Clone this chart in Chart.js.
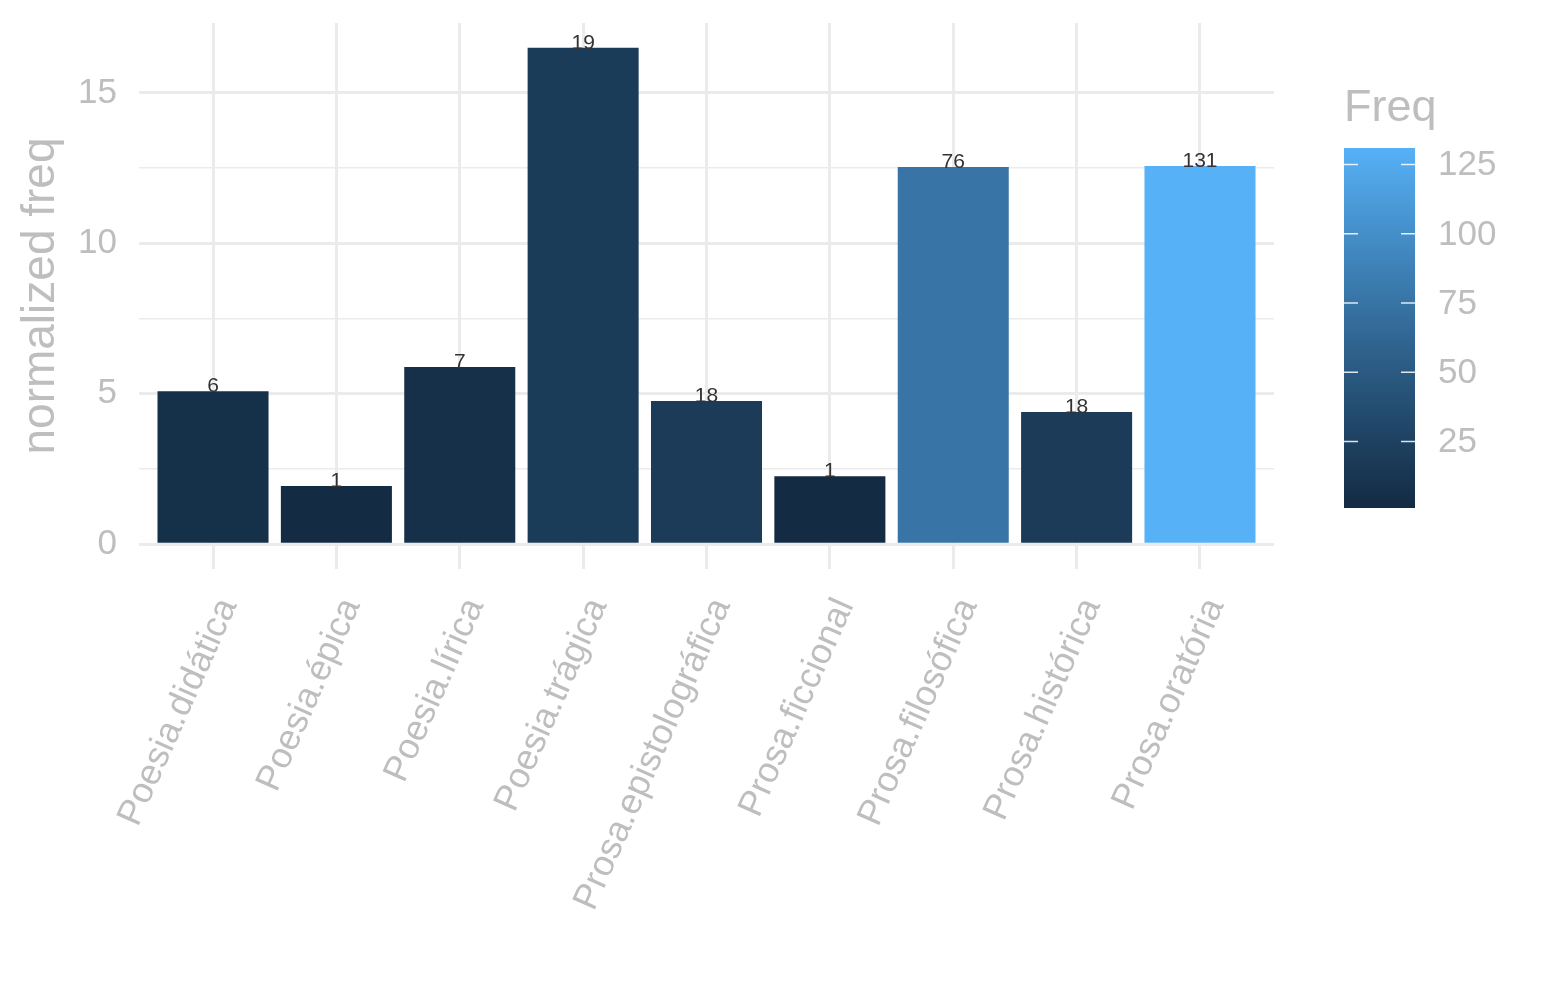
<!DOCTYPE html>
<html>
<head>
<meta charset="utf-8">
<script src="https://cdn.jsdelivr.net/npm/chart.js@4.4.1/dist/chart.umd.min.js"></script>
<style>
  html, body { margin: 0; padding: 0; background: #ffffff; }
  #chart { display: block; }
</style>
</head>
<body>
<canvas id="chart" width="1545" height="1000"></canvas>
<script>
const genres = ["Poesia.didática", "Poesia.épica", "Poesia.lírica", "Poesia.trágica", "Prosa.epistolográfica",
  "Prosa.ficcional", "Prosa.filosófica", "Prosa.histórica", "Prosa.oratória"];
const normFreq = [5.08, 1.93, 5.89, 16.5, 4.76, 2.26, 12.54, 4.39, 12.57];
const freqCounts = [6, 1, 7, 19, 18, 1, 76, 18, 131];
const yTicks = [0, 2.5, 5, 7.5, 10, 12.5, 15];
const legendTicks = [25, 50, 75, 100, 125];

const lowColor = "#132B43";
const highColor = "#56B1F7";
const gridColor = "#EBEBEB";
const textGrey = "#BEBEBE";
const font = "'Liberation Sans', Arial, Helvetica, sans-serif";

// lab interpolation like ggplot's gradient
function hexToRgb(hex) {
  return [1, 3, 5].map((i) => parseInt(hex.slice(i, i + 2), 16) / 255);
}

function rgbToLab(rgb) {
  const lin = rgb.map((c) => (c <= 0.04045 ? c / 12.92 : Math.pow((c + 0.055) / 1.055, 2.4)));
  const x = (0.4124 * lin[0] + 0.3576 * lin[1] + 0.1805 * lin[2]) / 0.95047;
  const y = 0.2126 * lin[0] + 0.7152 * lin[1] + 0.0722 * lin[2];
  const z = (0.0193 * lin[0] + 0.1192 * lin[1] + 0.9505 * lin[2]) / 1.08883;
  const f = (t) => (t > 0.008856 ? Math.cbrt(t) : 7.787 * t + 16 / 116);
  return [116 * f(y) - 16, 500 * (f(x) - f(y)), 200 * (f(y) - f(z))];
}

function labToHex(lab) {
  const fy = (lab[0] + 16) / 116;
  const fx = fy + lab[1] / 500;
  const fz = fy - lab[2] / 200;
  const finv = (t) => (t * t * t > 0.008856 ? t * t * t : (t - 16 / 116) / 7.787);
  const x = finv(fx) * 0.95047;
  const y = finv(fy);
  const z = finv(fz) * 1.08883;
  const lin = [
    3.2406 * x - 1.5372 * y - 0.4986 * z,
    -0.9689 * x + 1.8758 * y + 0.0415 * z,
    0.0557 * x - 0.2040 * y + 1.0570 * z
  ];
  return "#" + lin.map((c) => {
    const v = c <= 0.0031308 ? 12.92 * c : 1.055 * Math.pow(c, 1 / 2.4) - 0.055;
    const n = Math.round(Math.min(1, Math.max(0, v)) * 255);
    return n.toString(16).padStart(2, "0");
  }).join("");
}

const lowLab = rgbToLab(hexToRgb(lowColor));
const highLab = rgbToLab(hexToRgb(highColor));
const freqMin = Math.min(...freqCounts);
const freqMax = Math.max(...freqCounts);

function fillFor(value) {
  const t = (value - freqMin) / (freqMax - freqMin);
  return labToHex(lowLab.map((l, i) => l + (highLab[i] - l) * t));
}

const barLabels = {
  id: "barLabels",
  afterDatasetsDraw(chart) {
    const ctx = chart.ctx;
    const meta = chart.getDatasetMeta(0);
    ctx.save();
    ctx.fillStyle = "#333333";
    ctx.font = "21px " + font;
    ctx.textAlign = "center";
    ctx.textBaseline = "alphabetic";
    meta.data.forEach((bar, i) => {
      ctx.fillText(String(freqCounts[i]), bar.x, bar.y + 1);
    });
    ctx.restore();
  }
};

const colorBar = {
  id: "colorBar",
  afterDraw(chart) {
    const ctx = chart.ctx;
    const left = 1344;
    const width = 71;
    const top = 148;
    const bottom = 508;
    const yFor = (v) => bottom - (v - freqMin) / (freqMax - freqMin) * (bottom - top);
    ctx.save();
    for (let y = top; y < bottom; y++) {
      ctx.fillStyle = fillFor(freqMin + (bottom - y - 0.5) / (bottom - top) * (freqMax - freqMin));
      ctx.fillRect(left, y, width, 1);
    }
    ctx.strokeStyle = "rgba(255,255,255,0.85)";
    ctx.lineWidth = 1.5;
    ctx.fillStyle = textGrey;
    ctx.font = "35px " + font;
    ctx.textAlign = "left";
    ctx.textBaseline = "middle";
    legendTicks.forEach((v) => {
      const y = yFor(v);
      ctx.beginPath();
      ctx.moveTo(left, y);
      ctx.lineTo(left + 14, y);
      ctx.moveTo(left + width - 14, y);
      ctx.lineTo(left + width, y);
      ctx.stroke();
      ctx.fillText(String(v), left + width + 23, y + 1);
    });
    ctx.font = "45px " + font;
    ctx.textBaseline = "alphabetic";
    ctx.fillText("Freq", left, 121);
    ctx.restore();
  }
};

new Chart(document.getElementById("chart"), {
  type: "bar",
  data: {
    datasets: [
      {
        label: "normalized freq",
        data: normFreq.map((v, i) => ({ x: i, y: v })),
        backgroundColor: freqCounts.map(fillFor),
        borderWidth: 0,
        barPercentage: 0.9,
        categoryPercentage: 1
      }
    ]
  },
  options: {
    responsive: false,
    animation: false,
    devicePixelRatio: 1,
    layout: {
      padding: { top: 23, right: 271, bottom: 0, left: 0 }
    },
    plugins: {
      legend: { display: false },
      tooltip: { enabled: false }
    },
    scales: {
      x: {
        type: "linear",
        min: -0.6,
        max: 8.6,
        offset: false,
        afterBuildTicks: (axis) => {
          axis.ticks = genres.map((g, i) => ({ value: i }));
        },
        afterFit: (axis) => {
          axis.height = 431;
          axis.paddingLeft = 0;
          axis.paddingRight = 0;
        },
        ticks: {
          autoSkip: false,
          minRotation: 66,
          maxRotation: 66,
          padding: 23,
          labelOffset: 15,
          color: textGrey,
          font: { family: font, size: 36 },
          callback: (value) => genres[value]
        },
        grid: {
          offset: false,
          color: gridColor,
          lineWidth: 3,
          drawTicks: false
        },
        border: { display: false }
      },
      y: {
        min: -0.825,
        max: 17.325,
        afterBuildTicks: (axis) => {
          axis.ticks = yTicks.map((v) => ({ value: v }));
        },
        afterFit: (axis) => {
          axis.width = 139;
          axis.paddingTop = 0;
          axis.paddingBottom = 0;
        },
        ticks: {
          padding: 22,
          color: textGrey,
          font: { family: font, size: 35 },
          callback: (value) => (value % 5 === 0 ? String(value) : "")
        },
        grid: {
          color: gridColor,
          lineWidth: (ctx) => (ctx.tick && ctx.tick.value % 5 !== 0 ? 1.6 : 3),
          drawTicks: false
        },
        border: { display: false },
        title: {
          display: true,
          text: "normalized freq",
          color: textGrey,
          font: { family: font, size: 46 },
          padding: { top: 14, bottom: 0 }
        }
      }
    }
  },
  plugins: [barLabels, colorBar]
});
</script>
</body>
</html>
